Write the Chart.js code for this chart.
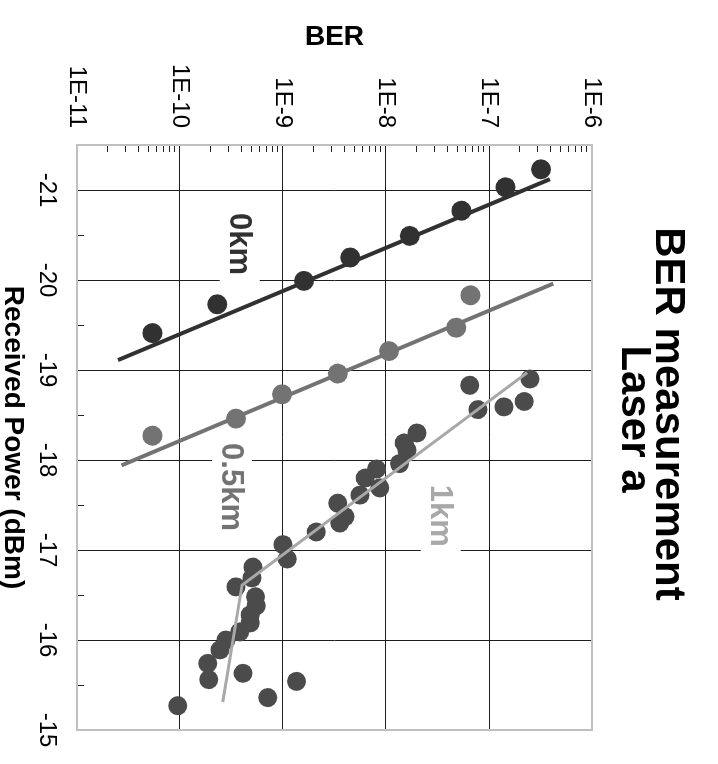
<!DOCTYPE html>
<html>
<head>
<meta charset="utf-8">
<script src="https://cdn.jsdelivr.net/npm/chart.js@4.4.1/dist/chart.umd.min.js"></script>
<style>
html, body { margin:0; padding:0; background:#fff; overflow:hidden; }
/* the chart is laid out upright, then turned a quarter clockwise */
#wrap { position:absolute; left:-23px; top:23px; width:764px; height:718px; transform:rotate(90deg); }
</style>
</head>
<body>
<div id="wrap"><canvas id="chart" width="764" height="718"></canvas></div>
<script>
const FONT = '"Liberation Sans", Arial, sans-serif';

const titleLines = ["BER measurement", "Laser a"];
const xTitle = "Received Power (dBm)";
const yTitle = "BER";

const powerTicks = [-21, -20, -19, -18, -17, -16, -15];
const powerMinor = [-21.5, -20.5, -19.5, -18.5, -17.5, -16.5, -15.5];
const berTicks = [1e-11, 1e-10, 1e-9, 1e-8, 1e-7, 1e-6];
const berTickLabels = ["1E-11", "1E-10", "1E-9", "1E-8", "1E-7", "1E-6"];
const berMinorSteps = [2, 3, 4, 5, 6, 7, 8, 9];

// 0 km
const power0 = [-19.41, -19.73, -19.99, -20.25, -20.49, -20.77, -21.03, -21.23];
const ber0 = [5.4e-11, 2.3e-10, 1.6e-9, 4.5e-9, 1.7e-8, 5.4e-8, 1.45e-7, 3.2e-7];
const fitPower0 = [-19.11, -21.12];
const fitBer0 = [2.5e-11, 3.9e-7];

// 0.5 km
const power05 = [-18.27, -18.46, -18.73, -18.96, -19.21, -19.47, -19.83];
const ber05 = [5.4e-11, 3.5e-10, 9.8e-10, 3.4e-9, 1.07e-8, 4.8e-8, 6.6e-8];
const fitPower05 = [-17.94, -19.96];
const fitBer05 = [2.7e-11, 4.2e-7];

// 1 km
const power1 = [-18.83, -18.56, -18.59, -18.65, -18.90, -18.30, -18.19, -18.11, -17.96, -17.90,
                -17.80, -17.69, -17.61, -17.52, -17.37, -17.30, -17.20, -17.06, -16.90, -16.81,
                -16.69, -16.59, -16.48, -16.38, -16.28, -16.19, -16.09, -16.00, -15.89, -15.74,
                -15.56, -15.63, -15.54, -15.36, -15.27];
const ber1 = [6.5e-8, 7.8e-8, 1.4e-7, 2.2e-7, 2.5e-7, 2.0e-8, 1.5e-8, 1.6e-8, 1.35e-8, 8.1e-9,
              6.3e-9, 8.7e-9, 5.6e-9, 3.4e-9, 4.0e-9, 3.55e-9, 2.1e-9, 1.0e-9, 1.1e-9, 5.1e-10,
              5.0e-10, 3.5e-10, 5.4e-10, 5.5e-10, 4.8e-10, 4.8e-10, 3.8e-10, 2.8e-10, 2.45e-10, 1.86e-10,
              1.9e-10, 4.1e-10, 1.35e-9, 7.1e-10, 9.5e-11];
const fitPower1 = [-18.97, -16.61, -15.31];
const fitBer1 = [2.35e-7, 4.0e-10, 2.6e-10];

const seriesLabels = ["0km", "0.5km", "1km"];
const labelPower = [-20.40, -17.70, -17.38];
const labelBer = [3.8e-10, 3.2e-10, 3.4e-8];
const seriesColors = ["#313131", "#737373", "#a8a8a8"];
const pointColors = ["#313131", "#737373", "#4b4b4b"];

function pts(xs, ys){ return xs.map((x, i) => ({x, y: ys[i]})); }

const decor = {
  id: 'decor',
  beforeDatasetsDraw(chart){
    const {ctx, chartArea: a, scales: {x, y}} = chart;
    ctx.save();
    ctx.strokeStyle = '#222';
    ctx.lineWidth = 1;
    ctx.beginPath();
    for(let i = 0; i < berTicks.length - 1; i++){
      berMinorSteps.forEach(k => {
        const py = Math.round(y.getPixelForValue(k * berTicks[i])) + 0.5;
        ctx.moveTo(a.left, py); ctx.lineTo(a.left + 7, py);
      });
    }
    powerMinor.forEach(v => {
      const px = Math.round(x.getPixelForValue(v)) + 0.5;
      ctx.moveTo(px, a.bottom); ctx.lineTo(px, a.bottom - 7);
    });
    ctx.stroke();
    ctx.strokeStyle = '#c0c0c0';
    ctx.lineWidth = 2;
    ctx.strokeRect(a.left, a.top, a.right - a.left, a.bottom - a.top);
    ctx.restore();
  },
  afterDatasetsDraw(chart){
    const {ctx, scales: {x, y}} = chart;
    ctx.save();
    ctx.font = 'bold 31px ' + FONT;
    ctx.textAlign = 'center';
    ctx.textBaseline = 'middle';
    seriesLabels.forEach((t, i) => {
      const px = x.getPixelForValue(labelPower[i]);
      const py = y.getPixelForValue(labelBer[i]);
      const w = ctx.measureText(t).width + 12;
      ctx.fillStyle = '#fff';
      ctx.fillRect(px - w / 2, py - 20, w, 40);
      ctx.fillStyle = seriesColors[i];
      ctx.fillText(t, px, py + 1);
    });
    ctx.restore();
  },
  afterDraw(chart){
    const ctx = chart.ctx;
    ctx.save();
    ctx.font = 'bold 42px ' + FONT;
    ctx.textAlign = 'center';
    ctx.fillStyle = '#000';
    ctx.fillText(titleLines[0], 414, 62);
    ctx.fillText(titleLines[1], 419, 96);
    ctx.restore();
  }
};

const hideEdge = last => c => (c.index === 0 && last === 5) || c.index === last ? 'rgba(0,0,0,0)' : '#1e1e1e';

const ctx = document.getElementById('chart').getContext('2d');
const chart = new Chart(ctx, {
  type: 'scatter',
  data: {
    datasets: [
      {label: '1km fit', data: pts(fitPower1, fitBer1), showLine: true, borderColor: seriesColors[2], borderWidth: 3, pointRadius: 0},
      {label: '0.5km fit', data: pts(fitPower05, fitBer05), showLine: true, borderColor: seriesColors[1], borderWidth: 4, pointRadius: 0},
      {label: '0km fit', data: pts(fitPower0, fitBer0), showLine: true, borderColor: seriesColors[0], borderWidth: 4, pointRadius: 0},
      {label: '0km', data: pts(power0, ber0), pointRadius: 10, backgroundColor: pointColors[0], borderWidth: 0},
      {label: '0.5km', data: pts(power05, ber05), pointRadius: 10, backgroundColor: pointColors[1], borderWidth: 0},
      {label: '1km', data: pts(power1, ber1), pointRadius: 9.5, backgroundColor: pointColors[2], borderWidth: 0}
    ]
  },
  options: {
    responsive: false,
    animation: false,
    layout: {padding: {top: 126, right: 34, bottom: 0, left: 0}},
    plugins: {legend: {display: false}, tooltip: {enabled: false}},
    scales: {
      x: {
        type: 'linear', min: -21.5, max: -15,
        afterBuildTicks: s => { s.ticks = powerTicks.map(v => ({value: v})); },
        afterFit: s => { s.height = 77; },
        grid: {drawTicks: false, lineWidth: 1, color: hideEdge(6)},
        border: {display: false},
        ticks: {padding: 16, color: '#000', maxRotation: 0, autoSkip: false, font: {family: FONT, size: 24}},
        title: {display: true, text: xTitle, color: '#000', padding: {top: 0, bottom: 0},
                font: {family: FONT, size: 28, weight: 'bold', lineHeight: 0.9}}
      },
      y: {
        type: 'logarithmic', min: 1e-11, max: 1e-6,
        afterBuildTicks: s => { s.ticks = berTicks.map(v => ({value: v})); },
        afterFit: s => { s.width = 145; },
        grid: {drawTicks: false, lineWidth: 1, color: hideEdge(5)},
        border: {display: false},
        ticks: {padding: 17, color: '#000', autoSkip: false, font: {family: FONT, size: 24},
                callback: (v, i) => berTickLabels[i]},
        title: {display: true, text: yTitle, color: '#000', padding: {top: 20, bottom: 0},
                font: {family: FONT, size: 28, weight: 'bold'}}
      }
    }
  },
  plugins: [decor]
});
</script>
</body>
</html>
